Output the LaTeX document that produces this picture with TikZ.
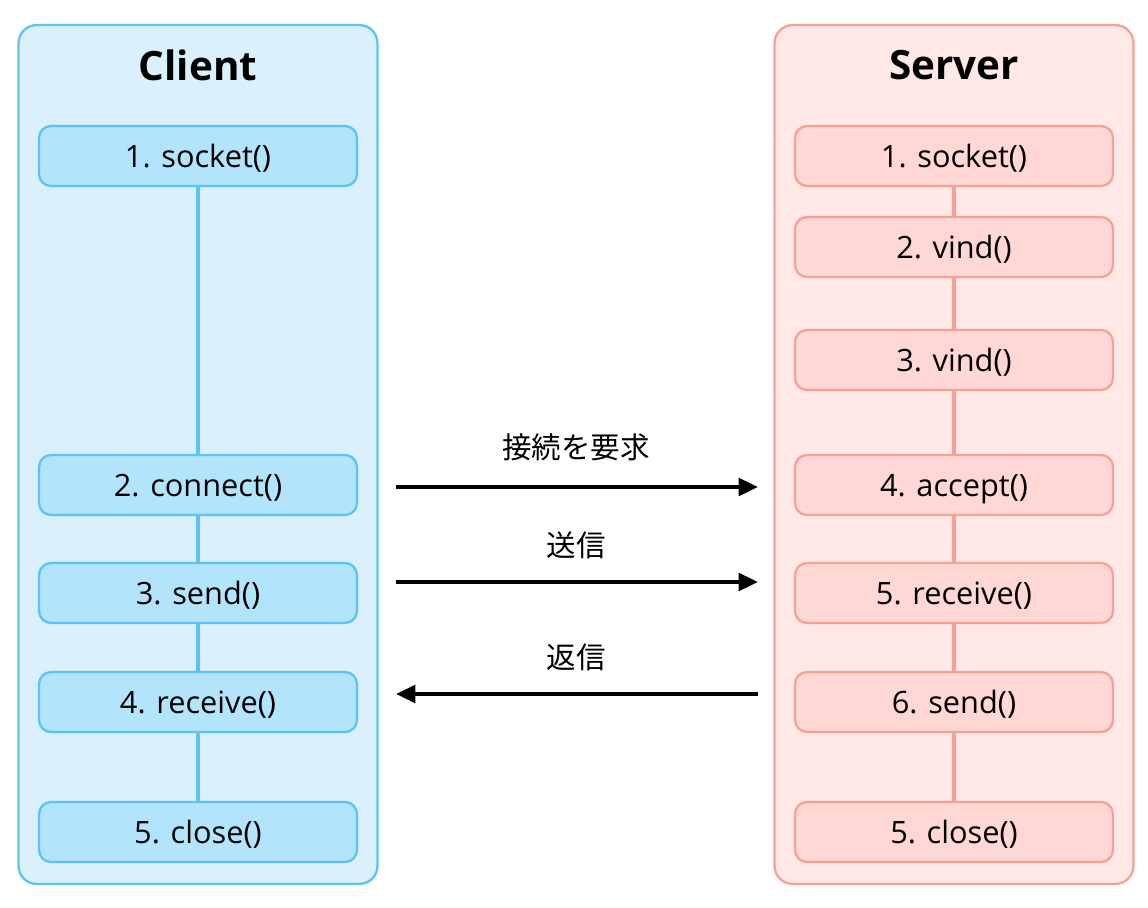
\documentclass[tikz,border=0pt]{standalone}
\usepackage{fontspec}
\setmainfont{Open Sans}
\newfontfamily\jpfont{Noto Sans CJK JP}
\usetikzlibrary{arrows.meta}
\begin{document}
\begin{tikzpicture}[x=0.02cm, y=-0.02cm]
            \useasboundingbox (0, 0) rectangle (1148, 908);
            \definecolor{Cline}{RGB}{92, 194, 248}
            \definecolor{Cpanel}{RGB}{218, 240, 253}
            \definecolor{Cbox}{RGB}{178, 228, 252}
            \definecolor{Sline}{RGB}{247, 160, 152}
            \definecolor{Spanel}{RGB}{255, 232, 230}
            \definecolor{Sbox}{RGB}{255, 215, 212}
            \def\panelwidth{7.18cm}
            \def\panelheight{17.18cm}
            \def\boxwidth{6.36cm}
            \def\boxheight{1.2cm}
            \def\clientx{198}
            \def\serverx{954}
            \tikzset{
                panel/.style={draw, line width=1.3pt, rounded corners=0.36cm, minimum width=\panelwidth, minimum height=\panelheight},
                stepbox/.style={draw, line width=1.3pt, rounded corners=0.24cm, minimum width=\boxwidth, minimum height=\boxheight, text height=14pt, text depth=0.5pt, font=\fontsize{17.5}{20}\selectfont},
                title/.style={font=\fontsize{23}{27}\selectfont\bfseries},
                link/.style={line width=2.2pt},
                msg/.style={line width=2.1pt, -{Triangle[length=11pt, width=10pt]}},
                msgtext/.style={font=\jpfont\fontsize{16.8}{19}\selectfont}
            }
            % panels
            \node[panel, draw=Cline, fill=Cpanel] (client) at (\clientx, 454.5) {};
            \node[panel, draw=Sline, fill=Spanel] (server) at (\serverx, 454.5) {};
            \node[title] (clienttitle) at (\clientx, 65) {Client};
            \node[title] (servertitle) at (\serverx, 65) {Server};
            % client steps
            \node[stepbox, draw=Cline, fill=Cbox] (C1) at (\clientx, 156) {1. socket()};
            \node[stepbox, draw=Cline, fill=Cbox] (C2) at (\clientx, 485) {2. connect()};
            \node[stepbox, draw=Cline, fill=Cbox] (C3) at (\clientx, 593) {3. send()};
            \node[stepbox, draw=Cline, fill=Cbox] (C4) at (\clientx, 702) {4. receive()};
            \node[stepbox, draw=Cline, fill=Cbox] (C5) at (\clientx, 832) {5. close()};
            % server steps
            \node[stepbox, draw=Sline, fill=Sbox] (S1) at (\serverx, 156) {1. socket()};
            \node[stepbox, draw=Sline, fill=Sbox] (S2) at (\serverx, 247) {2. vind()};
            \node[stepbox, draw=Sline, fill=Sbox] (S3) at (\serverx, 360) {3. vind()};
            \node[stepbox, draw=Sline, fill=Sbox] (S4) at (\serverx, 485) {4. accept()};
            \node[stepbox, draw=Sline, fill=Sbox] (S5) at (\serverx, 593) {5. receive()};
            \node[stepbox, draw=Sline, fill=Sbox] (S6) at (\serverx, 702) {6. send()};
            \node[stepbox, draw=Sline, fill=Sbox] (S7) at (\serverx, 832) {5. close()};
            \draw[link, Cline] (C1.south) -- (C2.north);
            \draw[link, Cline] (C2.south) -- (C3.north);
            \draw[link, Cline] (C3.south) -- (C4.north);
            \draw[link, Cline] (C4.south) -- (C5.north);
            \draw[link, Sline] (S1.south) -- (S2.north);
            \draw[link, Sline] (S2.south) -- (S3.north);
            \draw[link, Sline] (S3.south) -- (S4.north);
            \draw[link, Sline] (S4.south) -- (S5.north);
            \draw[link, Sline] (S5.south) -- (S6.north);
            \draw[link, Sline] (S6.south) -- (S7.north);
            % messages
            \coordinate (m1a) at (396, 487);
            \coordinate (m1b) at (758, 487);
            \coordinate (m2a) at (396, 582);
            \coordinate (m2b) at (758, 582);
            \coordinate (m3a) at (758, 694);
            \coordinate (m3b) at (396, 694);
            \draw[msg] (m1a) -- (m1b);
            \draw[msg] (m2a) -- (m2b);
            \draw[msg] (m3a) -- (m3b);
            \node[msgtext] (text1) at (576, 447) {接続を要求};
            \node[msgtext] (text2) at (576, 545) {送信};
            \node[msgtext] (text3) at (576, 657) {返信};
        \end{tikzpicture}
\end{document}
